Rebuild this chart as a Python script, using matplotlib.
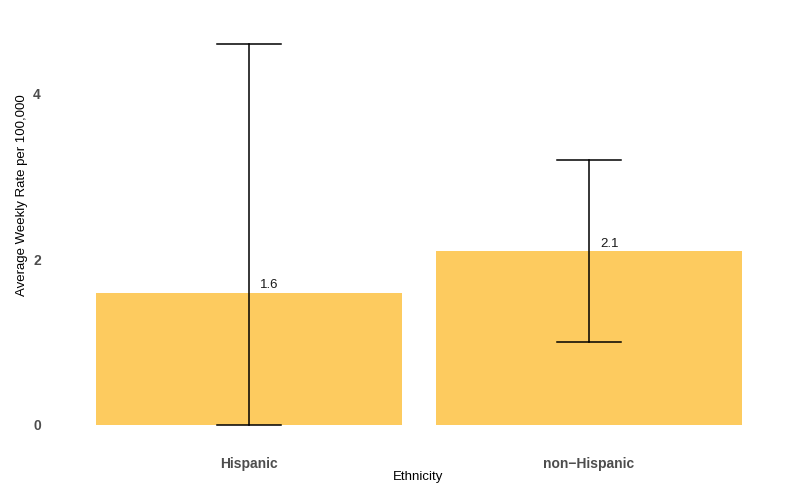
import matplotlib
matplotlib.use("Agg")
import matplotlib.pyplot as plt

plt.rcParams["font.family"] = ["Liberation Sans", "DejaVu Sans"]

# average weekly rate by ethnicity, with confidence limits
ethnicity = ["Hispanic", "non\u2212Hispanic"]
rate = [1.6, 2.1]
lower = [0.0, 1.0]
upper = [4.6, 3.2]

W, H = 788, 490
fig = plt.figure(figsize=(W / 100, H / 100), dpi=100)

# panel placed in pixel terms (left, top, right, bottom)
px_l, px_t, px_r, px_b = 45, 26, 793, 444
ax = fig.add_axes([px_l / W, 1 - px_b / H, (px_r - px_l) / W, (px_b - px_t) / H])

x = list(range(len(ethnicity)))
ax.bar(x, rate, width=0.9, color="#FDCB5F", zorder=1)

for xi, r, lo, hi in zip(x, rate, lower, upper):
    ax.plot([xi, xi], [lo, hi], color="black", lw=1.1, zorder=2)
    for y in (lo, hi):
        ax.plot([xi - 0.095, xi + 0.095], [y, y], color="black", lw=1.1, zorder=2)
    ax.text(xi + 0.032, r + 0.015, f"{r:.1f}", ha="left", va="bottom",
            fontsize=9.5, color="#1a1a1a")

ax.set_xlim(-0.6, 1.6)
ax.set_ylim(-0.23, 4.82)
ax.set_yticks([0, 2, 4])
ax.set_xticks(x)
ax.set_xticklabels(ethnicity)
for lab in ax.get_xticklabels() + ax.get_yticklabels():
    lab.set_fontweight("bold")
    lab.set_color("#4d4d4d")
    lab.set_fontsize(10)
ax.tick_params(axis="x", length=0, pad=9)
ax.tick_params(axis="y", length=0, pad=3)
for s in ax.spines.values():
    s.set_visible(False)

fig.text(418 / W, 1 - 477 / H, "Ethnicity", ha="center", va="center",
         fontsize=9.5, color="black")
fig.text(22 / W, 1 - 195 / H, "Average Weekly Rate per 100,000", ha="center",
         va="center", rotation=90, fontsize=9.5, color="black")

fig.savefig("out.png", dpi=100)
